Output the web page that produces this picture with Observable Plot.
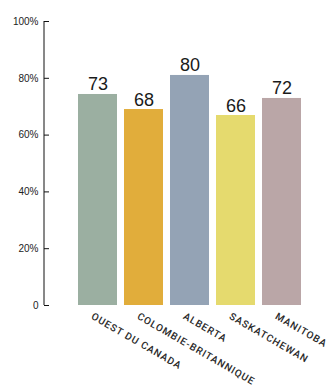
<!DOCTYPE html>
<html><head><meta charset="utf-8">
<script src="https://cdn.jsdelivr.net/npm/d3@7"></script>
<script src="https://cdn.jsdelivr.net/npm/@observablehq/plot@0.6"></script>
<style>
body{margin:0;background:#fff;}
g[aria-label="x-axis tick label"] text { letter-spacing: 0.9px; }
</style></head><body><div id="chart"></div>
<script>
const regions = ["OUEST DU CANADA", "COLOMBIE-BRITANNIQUE", "ALBERTA", "SASKATCHEWAN", "MANITOBA"];
const barValues = [74.3, 69.0, 81.0, 66.9, 72.9];
const labelValues = [73, 68, 80, 66, 72];
const colors = ["#9bafa1", "#e1ad3b", "#94a3b5", "#e5da6e", "#baa6a7"];
const yTicks = [0, 20, 40, 60, 80, 100];
const yTickLabels = ["0", "20%", "40%", "60%", "80%", "100%"];

const data = regions.map((r, i) => ({region: r, value: barValues[i], label: String(labelValues[i])}));

const plot = Plot.plot({
  width: 329, height: 389,
  marginLeft: 44, marginRight: 24, marginTop: 21, marginBottom: 84,
  style: {fontFamily: "'Liberation Sans', Arial, sans-serif", background: "#fff", overflow: "visible"},
  x: {domain: regions, paddingInner: 0.16, paddingOuter: 0.387, align: 0.889, label: null},
  y: {domain: [0, 100], label: null},
  color: {domain: regions, range: colors},
  marks: [
    Plot.barY(data, {x: "region", y: "value", fill: "region"}),
    Plot.text(data, {x: "region", y: "value", text: "label", lineAnchor: "bottom", dy: -4, fontSize: 18, fill: "#1a1a1a"}),
    Plot.axisY({ticks: yTicks, tickSize: 5, dx: 5, tickFormat: () => "", color: "#111"}),
    Plot.axisY({ticks: yTicks, tickSize: 0, tickPadding: 6, tickFormat: d => yTickLabels[yTicks.indexOf(d)], fontSize: 10, color: "#222"}),
    Plot.axisX({tickSize: 0, tickPadding: 10, tickRotate: 30, textAnchor: "start", fontFamily: "Roboto", fontWeight: 500, fontSize: 10, color: "#2a2a2a", dx: -6})
  ]
});

const xs = plot.scale("x"), ys = plot.scale("y");
d3.select(plot).append("line")
  .attr("x1", xs.range[0]).attr("x2", xs.range[0])
  .attr("y1", ys.apply(0)).attr("y2", ys.apply(100))
  .attr("stroke", "#111").attr("stroke-width", 1);

document.getElementById("chart").append(plot);
</script></body></html>
